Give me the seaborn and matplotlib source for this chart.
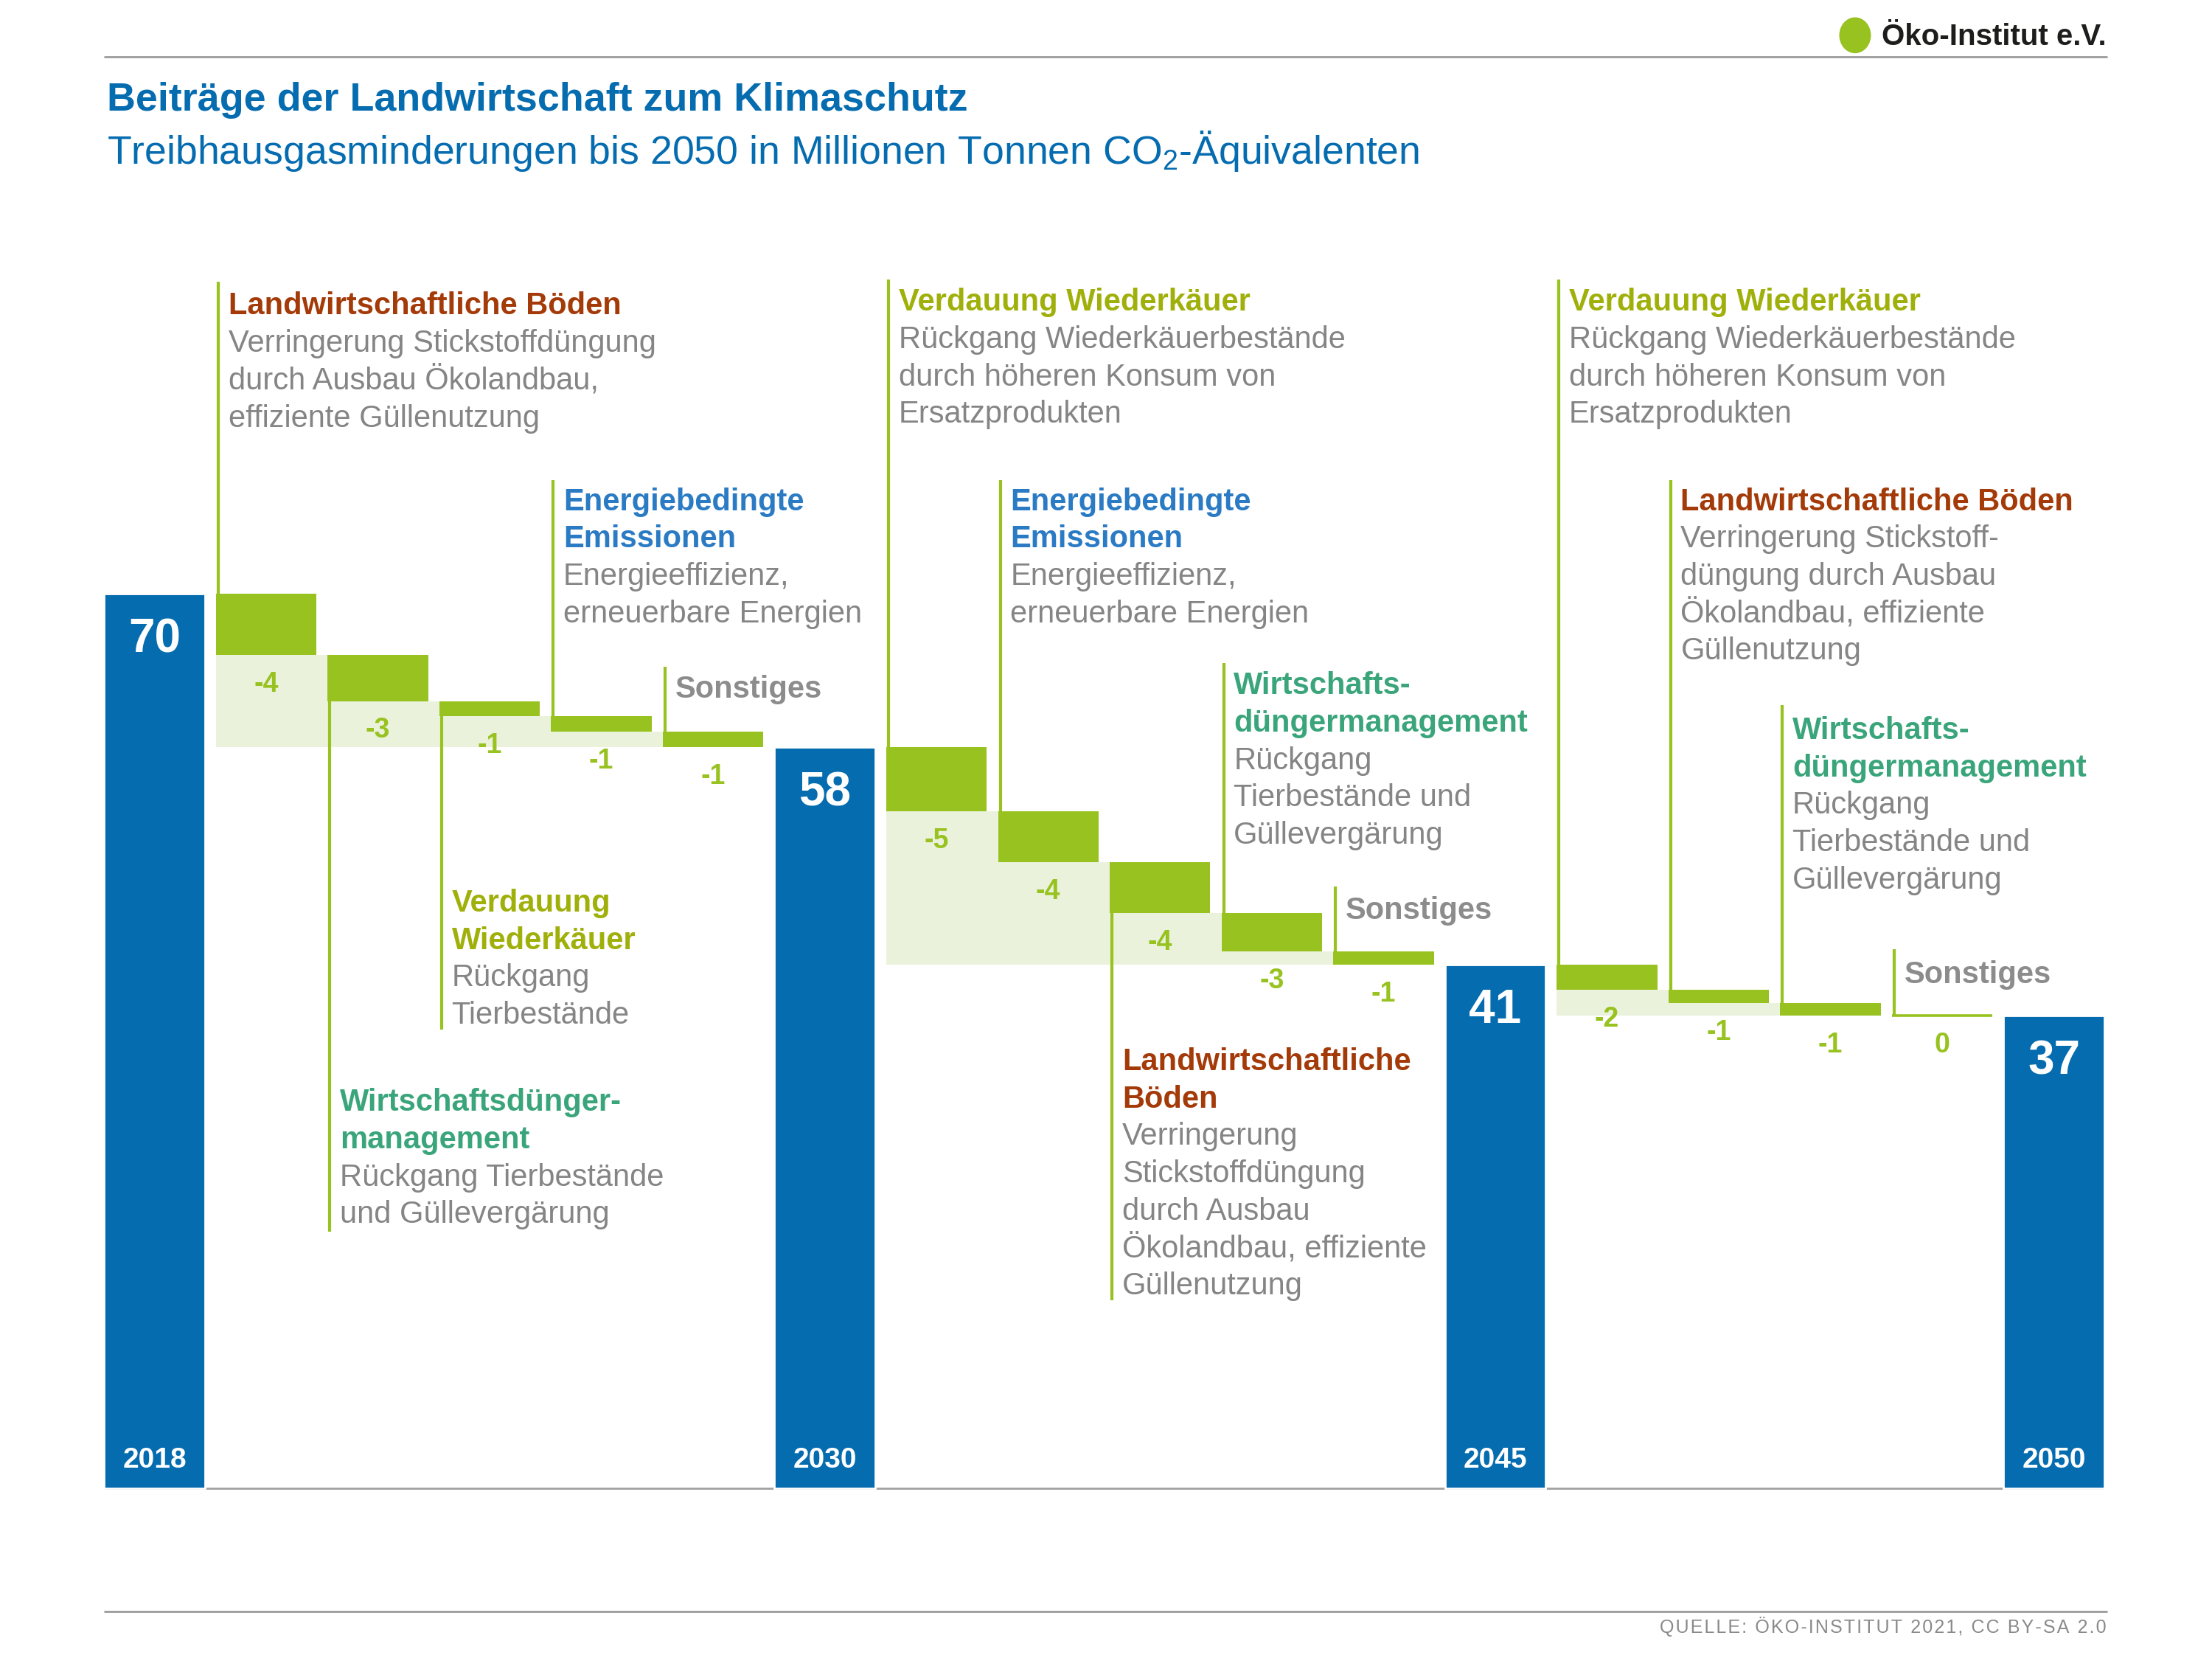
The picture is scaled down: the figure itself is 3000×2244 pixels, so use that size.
import numpy as np
import pandas as pd
import matplotlib
matplotlib.use("Agg")
import matplotlib.pyplot as plt
import seaborn as sns
from matplotlib.patches import Ellipse

# --- data -------------------------------------------------------------
years = ["2018", "2030", "2045", "2050"]
totals = [70, 58, 41, 37]

# reductions per period (bar height) and the printed label
steps_2030 = [4.8, 3.6, 1.2, 1.2, 1.2]
labels_2030 = ["-4", "-3", "-1", "-1", "-1"]
steps_2045 = [5.0, 4.0, 4.0, 3.0, 1.0]
labels_2045 = ["-5", "-4", "-4", "-3", "-1"]
steps_2050 = [2.0, 1.0, 1.0, 0.0]
labels_2050 = ["-2", "-1", "-1", "0"]

cats_2030 = ["boeden", "duenger", "verdauung", "energie", "sonst"]
cats_2045 = ["verdauung", "energie", "boeden", "duenger", "sonst"]
cats_2050 = ["verdauung", "boeden", "duenger", "sonst"]

texts_2030 = [
    ("Landwirtschaftliche Böden", "Verringerung Stickstoffdüngung\ndurch Ausbau Ökolandbau,\neffiziente Güllenutzung"),
    ("Wirtschaftsdünger-\nmanagement", "Rückgang Tierbestände\nund Güllevergärung"),
    ("Verdauung\nWiederkäuer", "Rückgang\nTierbestände"),
    ("Energiebedingte\nEmissionen", "Energieeffizienz,\nerneuerbare Energien"),
    ("Sonstiges", ""),
]
texts_2045 = [
    ("Verdauung Wiederkäuer", "Rückgang Wiederkäuerbestände\ndurch höheren Konsum von\nErsatzprodukten"),
    ("Energiebedingte\nEmissionen", "Energieeffizienz,\nerneuerbare Energien"),
    ("Landwirtschaftliche\nBöden", "Verringerung\nStickstoffdüngung\ndurch Ausbau\nÖkolandbau, effiziente\nGüllenutzung"),
    ("Wirtschafts-\ndüngermanagement", "Rückgang\nTierbestände und\nGüllevergärung"),
    ("Sonstiges", ""),
]
texts_2050 = [
    ("Verdauung Wiederkäuer", "Rückgang Wiederkäuerbestände\ndurch höheren Konsum von\nErsatzprodukten"),
    ("Landwirtschaftliche Böden", "Verringerung Stickstoff-\ndüngung durch Ausbau\nÖkolandbau, effiziente\nGüllenutzung"),
    ("Wirtschafts-\ndüngermanagement", "Rückgang\nTierbestände und\nGüllevergärung"),
    ("Sonstiges", ""),
]

# annotation layout: (direction, end of connector line, centre of first text line)
layout_2030 = [("up", 94.4, 92.7), ("down", 20.1, 30.4), ("down", 35.9, 46.0),
               ("up", 78.9, 77.4), ("up", 64.3, 62.7)]
layout_2045 = [("up", 94.6, 93.0), ("up", 78.9, 77.4), ("down", 14.7, 33.6),
               ("up", 64.6, 63.0), ("up", 47.1, 45.4)]
layout_2050 = [("up", 94.6, 93.0), ("up", 78.9, 77.4), ("up", 61.3, 59.5),
               ("up", 42.2, 40.4)]

# --- style ------------------------------------------------------------
BLUE = "#056cb0"
GREEN = "#97c21f"
LIGHT = "#ebf2dc"
DESC = "#858585"
cat_colors = {
    "boeden": "#a33a08",
    "verdauung": "#a0b00b",
    "energie": "#2b7bc4",
    "duenger": "#3aa57b",
    "sonst": "#8c8c8c",
}

sns.set_style("white")
plt.rcParams["font.family"] = ["Liberation Sans", "DejaVu Sans"]
plt.rcParams["mathtext.fontset"] = "custom"
plt.rcParams["mathtext.rm"] = "Liberation Sans"

fig = plt.figure(figsize=(15, 11.22), dpi=200)
ax = fig.add_axes([0, 0, 1, 1])

# slot positions: total, steps..., total, steps..., ...
periods = [(steps_2030, labels_2030, cats_2030, texts_2030, layout_2030),
           (steps_2045, labels_2045, cats_2045, texts_2045, layout_2045),
           (steps_2050, labels_2050, cats_2050, texts_2050, layout_2050)]
slot_names = []
for i, y in enumerate(years):
    slot_names.append(y)
    if i < len(periods):
        slot_names += [f"{y}_{k}" for k in range(len(periods[i][0]))]

df_tot = pd.DataFrame({"slot": years, "value": totals})
sns.barplot(data=df_tot, x="slot", y="value", order=slot_names, color=BLUE,
            width=0.9, saturation=1, ax=ax, zorder=3)

W = 0.9
LINE_H = 2.925
for i, (steps, labels, cats, texts, lay) in enumerate(periods):
    start = totals[i]
    end = totals[i + 1]
    s0 = slot_names.index(years[i])
    level = start
    for k, step in enumerate(steps):
        s = s0 + 1 + k
        bottom = level - step
        # light staircase behind
        left = s - W / 2
        right = (s + 1 - W / 2) if k < len(steps) - 1 else s + W / 2
        if bottom > end:
            ax.bar(left, bottom - end, bottom=end, width=right - left, align="edge",
                   color=LIGHT, lw=0, zorder=1)
        if step > 0:
            ax.bar(s, step, bottom=bottom, width=W, color=GREEN, lw=0, zorder=3)
        else:
            ax.hlines(end, s - W / 2, s + W / 2, color=GREEN, lw=1.3, zorder=3)
        ax.text(s, bottom - 2.3, labels[k], ha="center", va="center", color=GREEN,
                fontsize=13.5, fontweight="bold", zorder=4)

        # connector line and description
        direction, line_end, first = lay[k]
        y0 = level if direction == "up" else bottom
        ax.vlines(s - 0.43, y0, line_end, color=GREEN, lw=1.5, zorder=2)
        title, desc = texts[k]
        tx = s - 0.34
        n = 0
        for line in title.split("\n"):
            ax.text(tx, first - 0.86 - n * LINE_H, line, ha="left", va="baseline",
                    color=cat_colors[cats[k]], fontsize=15, fontweight="bold")
            n += 1
        if desc:
            for line in desc.split("\n"):
                ax.text(tx, first - 0.86 - n * LINE_H, line, ha="left", va="baseline",
                        color=DESC, fontsize=15)
                n += 1
        level = bottom

# totals: value on top, year at bottom
for y, v in zip(years, totals):
    s = slot_names.index(y)
    ax.text(s, v - 3.6, str(v), ha="center", va="center", color="white",
            fontsize=23, fontweight="bold", zorder=5)
    ax.text(s, 2.2, y, ha="center", va="center", color="white",
            fontsize=14, fontweight="bold", zorder=5)

# baseline
ax.hlines(0, -W / 2, len(slot_names) - 1 + W / 2, color="#a0a0a0", lw=1.0, zorder=2)

# map slot units to the page
PX_W, PX_H = 1568, 1173
slot0, slot_dx = 109.5, 79.2
base_y, unit_y = 1055, 9.06
ax.set_xlim(-slot0 / slot_dx, (PX_W - slot0) / slot_dx)
ax.set_ylim(-(PX_H - base_y) / unit_y, base_y / unit_y)
ax.axis("off")

# header
L, R = 74 / PX_W, 1493 / PX_W
fig.add_artist(plt.Line2D([L, R], [1 - 40 / PX_H] * 2, color="#9a9a9a", lw=1.0))
fig.add_artist(plt.Line2D([L, R], [1 - 1142 / PX_H] * 2, color="#9a9a9a", lw=1.0))
fig.text(L + 0.001, 1 - 71 / PX_H, "Beiträge der Landwirtschaft zum Klimaschutz",
         ha="left", va="center", color=BLUE, fontsize=19.4, fontweight="bold")
fig.text(L + 0.001, 1 - 107 / PX_H,
         r"Treibhausgasminderungen bis 2050 in Millionen Tonnen CO$_{\mathrm{2}}$-Äquivalenten",
         ha="left", va="center", color=BLUE, fontsize=19.3)
source = "QUELLE: ÖKO-INSTITUT 2021, CC BY-SA 2.0"
fig.text(R, 1 - 1153 / PX_H, "\u200a".join(source),
         ha="right", va="center", color="#8a8a8a", fontsize=9)

# logo
fig.add_artist(Ellipse((1315 / PX_W, 1 - 25 / PX_H), 21 / PX_W, 24 / PX_H,
                       transform=fig.transFigure, color=GREEN))
fig.text(R, 1 - 26 / PX_H, "Öko-Institut e.V.", ha="right", va="center",
         color="#1d1d1b", fontsize=14.5, fontweight="bold")

fig.savefig("out.png", dpi=200, facecolor="white")
